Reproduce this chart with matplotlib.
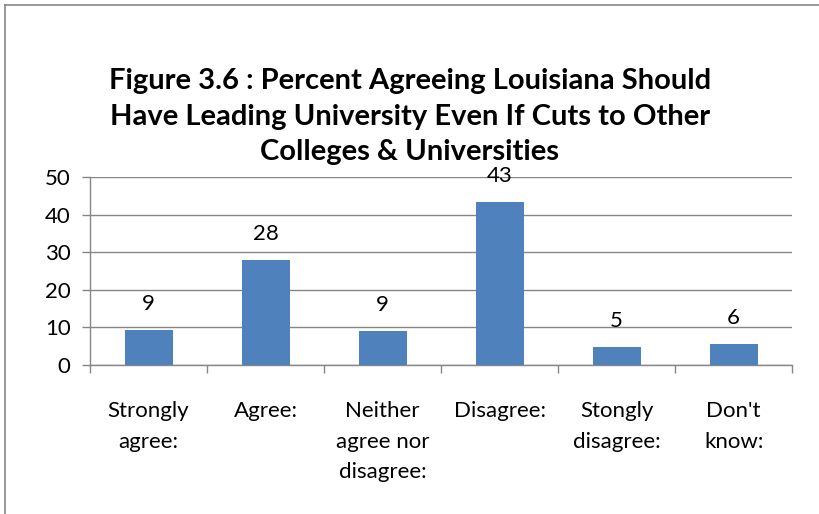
import matplotlib
matplotlib.use("Agg")
import matplotlib.pyplot as plt
from matplotlib.lines import Line2D
import numpy as np

categories = ["Strongly\nagree:", "Agree:", "Neither\nagree nor\ndisagree:", "Disagree:", "Stongly\ndisagree:", "Don't\nknow:"]
values = [9.2, 27.9, 9.0, 43.3, 4.8, 5.6]
labels = ["9", "28", "9", "43", "5", "6"]
yticks = [0, 10, 20, 30, 40, 50]
title = "Figure 3.6 : Percent Agreeing Louisiana Should\nHave Leading University Even If Cuts to Other\nColleges & Universities"

plt.rcParams['font.family'] = ['Lato', 'DejaVu Sans']

fig = plt.figure(figsize=(8.2, 5.14), dpi=100)
ax = fig.add_axes([0.1098, 0.2899, 0.8562, 0.3657])

x = np.arange(len(categories))
ax.bar(x, values, width=0.41, color="#4f81bd", zorder=3)
for xi, v, lab in zip(x, values, labels):
    ax.annotate(lab, (xi, v), xytext=(0, 26), textcoords="offset pixels",
                ha="center", va="center", fontsize=16, color="black")

ax.set_xlim(-0.5, len(categories) - 0.5)
ax.set_ylim(0, 50)
ax.set_yticks(yticks)
ax.set_yticklabels([str(t) for t in yticks], fontsize=16)
ax.set_xticks(x)
ax.set_xticklabels(categories, fontsize=16, linespacing=1.65, va="top")
ax.set_xticks(np.arange(-0.5, len(categories)), minor=True)
ax.tick_params(axis="x", which="major", length=0, pad=26)
ax.tick_params(axis="x", which="minor", length=6, color="#868686", width=1)
ax.tick_params(axis="y", length=6, color="#868686", width=1, pad=8)
ax.grid(axis="y", color="#868686", linewidth=1, zorder=0)
for s in ["top", "right"]:
    ax.spines[s].set_visible(False)
for s in ["left", "bottom"]:
    ax.spines[s].set_color("#868686")
    ax.spines[s].set_linewidth(1)

fig.text(0.5, 0.773, title, ha="center", va="center", fontsize=21,
         fontweight="bold", linespacing=1.44)

# outer chart border (top and left visible)
fig.add_artist(Line2D([5/820, 1], [1 - 5/514, 1 - 5/514], transform=fig.transFigure,
                      color="#868686", linewidth=1.2))
fig.add_artist(Line2D([5/820, 5/820], [0, 1 - 5/514], transform=fig.transFigure,
                      color="#868686", linewidth=1.2))

fig.savefig("out.png", dpi=100)
